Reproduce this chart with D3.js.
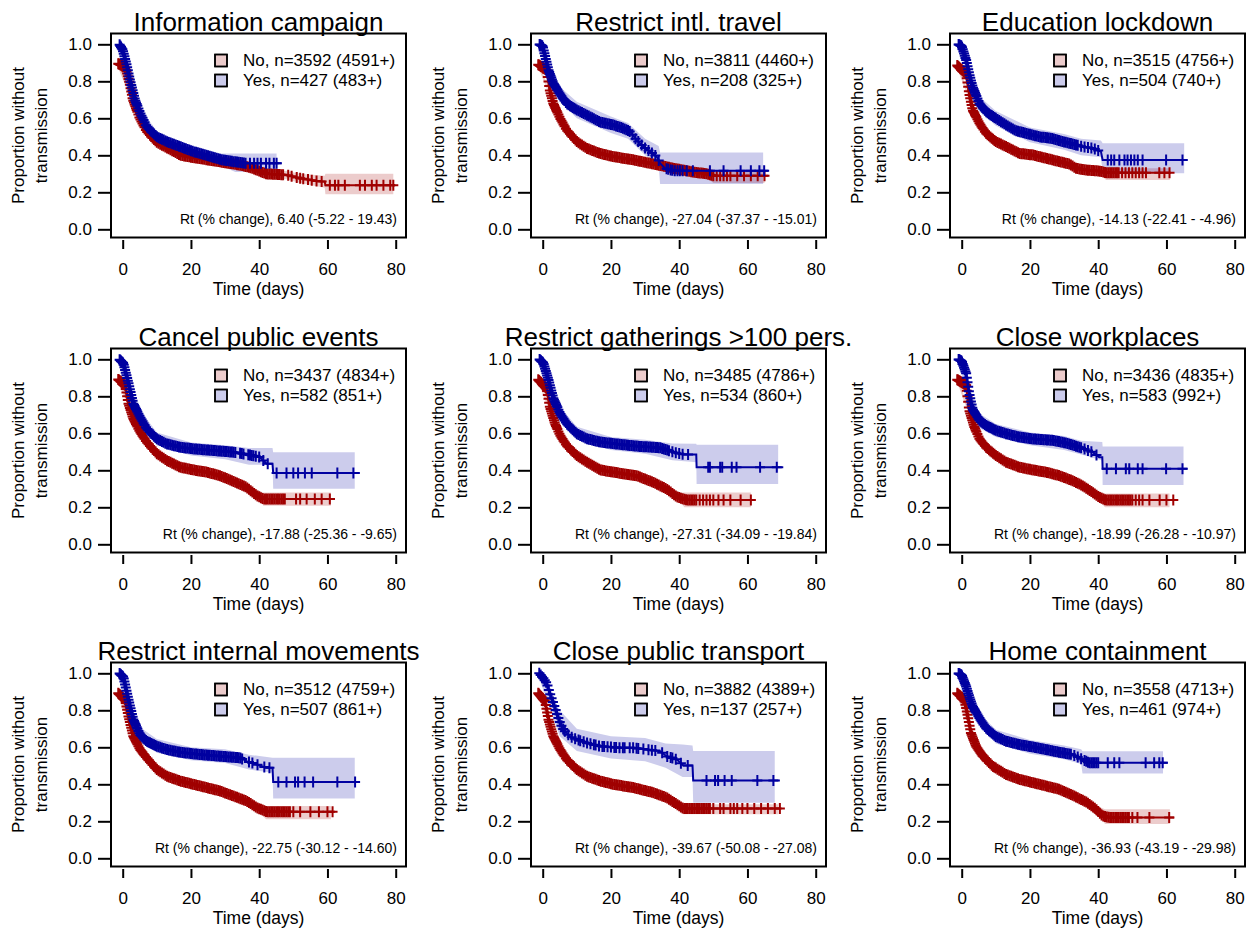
<!DOCTYPE html>
<html>
<head>
<meta charset="utf-8">
<script src="https://cdn.jsdelivr.net/npm/d3@7"></script>
<style>
  body { margin: 0; background: #fff; }
  svg { display: block; }
  text { font-family: "Liberation Sans", Arial, sans-serif; fill: #000; }
</style>
</head>
<body>
<svg id="chart" width="1246" height="928"></svg>
<script>
// panel titles, group sizes, Rt effect labels
var titles = ['Information campaign', 'Restrict intl. travel', 'Education lockdown',
  'Cancel public events', 'Restrict gatherings >100 pers.', 'Close workplaces',
  'Restrict internal movements', 'Close public transport', 'Home containment']
var nNo = [3592, 3811, 3515, 3437, 3485, 3436, 3512, 3882, 3558]
var cNo = [4591, 4460, 4756, 4834, 4786, 4835, 4759, 4389, 4713]
var nYes = [427, 208, 504, 582, 534, 583, 507, 137, 461]
var cYes = [483, 325, 740, 851, 860, 992, 861, 257, 974]
var rtEst = ['6.40', '-27.04', '-14.13', '-17.88', '-27.31', '-18.99', '-22.75', '-39.67', '-36.93']
var rtLo = ['-5.22', '-37.37', '-22.41', '-25.36', '-34.09', '-26.28', '-30.12', '-50.08', '-43.19']
var rtHi = ['19.43', '-15.01', '-4.96', '-9.65', '-19.84', '-10.97', '-14.60', '-27.08', '-29.98']

var xTicks = [0, 20, 40, 60, 80]
var yTicks = [0, 0.2, 0.4, 0.6, 0.8, 1.0]

// censoring times of the steep early part, shared by the dense curves
var earlyCens = [-1.3, -1.1, -0.9, -0.7, -0.5, -0.3, -0.1, 0.1, 0.3, 0.5, 0.7, 0.9, 1.1, 1.3, 1.5, 1.7, 1.9,
  2.1, 2.3, 2.5, 2.7, 2.9, 3.1, 3.3, 3.5, 3.7, 3.9, 4.1, 4.3, 4.6, 4.9, 5.2, 5.5, 5.8, 6.1, 6.4, 6.8, 7.2,
  7.6, 8, 8.4, 8.8, 9.2, 9.6, 10]

// ---- Information campaign
var campNo = [[-1.3, 0.895], [0.5, 0.88], [1.2, 0.85], [2, 0.79], [3, 0.70], [4, 0.65], [5, 0.60], [7, 0.53],
  [10, 0.47], [13, 0.44], [17, 0.40], [20, 0.39], [25, 0.375], [30, 0.36], [35, 0.345], [38, 0.33],
  [42, 0.30], [48, 0.294], [52, 0.276], [58, 0.258], [59.2, 0.258], [59.4, 0.238], [79.8, 0.238]]
var campNoCI = [[-1.3, 0.87, 0.92], [5, 0.585, 0.615], [10, 0.455, 0.485], [20, 0.375, 0.405], [30, 0.345, 0.375],
  [38, 0.31, 0.35], [42, 0.28, 0.32], [48, 0.27, 0.315], [52, 0.25, 0.30], [59.2, 0.225, 0.29],
  [59.4, 0.19, 0.30], [79.3, 0.19, 0.30]]
var campNoCens = [10.5, 11, 11.5, 12, 12.5, 13, 13.5, 14, 14.5, 15, 15.5, 16, 16.5, 17, 17.5, 18, 18.5, 19,
  19.5, 20, 20.5, 21, 21.5, 22, 22.5, 23, 23.5, 24, 24.5, 25, 25.5, 26, 26.5, 27, 27.5, 28, 28.5, 29, 29.5,
  30, 30.5, 31, 31.5, 32, 32.5, 33, 33.5, 34, 34.5, 35, 35.5, 36, 36.5, 37, 37.5, 38, 38.5, 39, 39.5, 40,
  40.5, 41, 41.5, 42, 42.5, 43, 43.5, 44, 44.5, 45, 45.5, 46, 46.5, 47, 48.5, 49.5, 51, 52, 52.9, 54.3,
  55.4, 56.8, 58.3, 60.7, 62.2, 63.2, 65.1, 69.5, 71, 73, 74.4, 76.4, 78.4, 79.3]
var campYes = [[-1, 1.0], [0, 0.97], [1, 0.9], [2.1, 0.81], [3.6, 0.70], [5.1, 0.63], [7, 0.555], [10, 0.50],
  [12.9, 0.474], [16.8, 0.447], [20.7, 0.42], [24.6, 0.40], [28.5, 0.378], [32.4, 0.366], [36, 0.357], [46.6, 0.357]]
var campYesCI = [[-1, 0.98, 1.0], [5, 0.60, 0.66], [10, 0.47, 0.53], [20, 0.39, 0.45], [28, 0.35, 0.41],
  [33, 0.31, 0.41], [45.1, 0.31, 0.41]]
var campYesCens = [10.5, 11, 11.5, 12, 12.5, 13, 13.5, 14, 14.5, 15, 15.5, 16, 16.5, 17, 17.5, 18, 18.5, 19,
  19.5, 20, 20.5, 21, 21.5, 22, 22.5, 23, 23.5, 24, 24.5, 25, 25.5, 26, 26.5, 27, 27.5, 28, 28.5, 29, 29.5,
  30, 30.5, 31, 31.5, 32, 32.5, 33, 33.5, 34, 34.5, 35, 35.5, 36, 37.3, 38.5, 39.5, 40.5, 42, 43, 44.3, 45.1]

// ---- Restrict intl. travel
var travelNo = [[-1.3, 0.89], [1.2, 0.86], [2.1, 0.75], [3.1, 0.68], [5.1, 0.60], [7, 0.537], [10, 0.474],
  [12.9, 0.438], [16.8, 0.41], [20.7, 0.393], [26.6, 0.375], [32.4, 0.353], [38.3, 0.33], [44, 0.31],
  [48, 0.30], [50, 0.29], [66.1, 0.29]]
var travelNoCI = [[-1.3, 0.875, 0.905], [5, 0.585, 0.615], [10, 0.46, 0.49], [20, 0.38, 0.41], [32, 0.335, 0.37],
  [40, 0.31, 0.35], [48, 0.28, 0.32], [50, 0.25, 0.32], [65, 0.25, 0.32]]
var travelNoCens = [10.5, 11, 11.5, 12, 12.5, 13, 13.5, 14, 14.5, 15, 15.5, 16, 16.5, 17, 17.5, 18, 18.5, 19,
  19.5, 20, 20.5, 21, 21.5, 22, 22.5, 23, 23.5, 24, 24.5, 25, 25.5, 26, 26.5, 27, 27.5, 28, 28.5, 29, 29.5,
  30, 30.5, 31, 31.5, 32, 32.5, 33, 33.5, 34, 34.5, 35, 35.5, 36, 36.5, 37, 37.5, 38, 38.5, 39, 39.5, 40,
  40.5, 41, 41.5, 42, 42.5, 43, 43.5, 44, 44.5, 45, 45.5, 46, 46.5, 47, 47.5, 48, 48.5, 49, 49.5, 50, 51,
  52, 53, 54, 55, 57, 59, 61, 63, 65]
var travelYes = [[-1, 1.0], [0, 0.99], [1.7, 0.86], [3.1, 0.79], [5.1, 0.73], [7, 0.68], [10, 0.645],
  [12.9, 0.618], [16.8, 0.58], [20.7, 0.564], [23.6, 0.546], [25.6, 0.528], [27.5, 0.483], [29.5, 0.447],
  [31.4, 0.42], [33.4, 0.393], [34.4, 0.357], [35.8, 0.33], [38.3, 0.317], [66.1, 0.317]]
var travelYesCI = [[-1, 0.97, 1.0], [5, 0.69, 0.77], [10, 0.60, 0.69], [20, 0.52, 0.61], [25, 0.49, 0.575],
  [30, 0.40, 0.49], [34, 0.34, 0.45], [34.4, 0.245, 0.415], [64.6, 0.245, 0.415]]
var travelYesCens = [10.5, 11, 11.5, 12, 12.5, 13, 13.5, 14, 14.5, 15, 15.5, 16, 16.5, 17, 17.5, 18, 18.5,
  19, 19.5, 20, 20.5, 21, 21.5, 22, 22.5, 23, 23.5, 24, 24.5, 25, 25.5, 26.3, 27.2, 28, 29, 30, 31, 32,
  33, 34, 36.3, 36.8, 37.5, 38, 38.7, 39.5, 40.2, 41, 42.2, 44, 49, 53, 58, 61, 63.5, 64.9]

// ---- Education lockdown
var eduNo = [[-1.3, 0.885], [1.3, 0.84], [2.2, 0.735], [3.2, 0.645], [5.2, 0.573], [7.1, 0.519], [10, 0.474],
  [13, 0.447], [16.9, 0.41], [20.8, 0.402], [24.7, 0.384], [28.6, 0.366], [31.5, 0.353], [33.5, 0.33],
  [36.4, 0.32], [40.3, 0.315], [42.3, 0.306], [61.3, 0.306]]
var eduNoCI = [[-1.3, 0.87, 0.9], [5, 0.56, 0.59], [10, 0.46, 0.49], [20, 0.385, 0.42], [30, 0.345, 0.38],
  [36, 0.30, 0.34], [41, 0.29, 0.335], [42.3, 0.267, 0.33], [61, 0.267, 0.33]]
var eduNoCens = [10.5, 11, 11.5, 12, 12.5, 13, 13.5, 14, 14.5, 15, 15.5, 16, 16.5, 17, 17.5, 18, 18.5, 19,
  19.5, 20, 20.5, 21, 21.5, 22, 22.5, 23, 23.5, 24, 24.5, 25, 25.5, 26, 26.5, 27, 27.5, 28, 28.5, 29, 29.5,
  30, 30.5, 31, 31.5, 32, 32.5, 33, 33.5, 34, 34.5, 35, 35.5, 36, 36.5, 37, 37.5, 38, 38.5, 39, 39.5, 40,
  40.5, 41, 41.5, 42, 42.5, 43, 43.5, 44, 44.5, 45, 45.5, 46, 47, 48, 49, 50, 51, 52, 53, 54, 57.9, 59.4, 60.9]
var eduYes = [[-1, 1.0], [0, 0.99], [1.3, 0.915], [2.2, 0.84], [3.2, 0.77], [5.2, 0.68], [7.1, 0.636],
  [10, 0.60], [13, 0.564], [15.9, 0.533], [18.8, 0.519], [22.8, 0.50], [26.7, 0.49], [29.6, 0.474],
  [32.5, 0.461], [35.4, 0.447], [38.4, 0.438], [40.8, 0.42], [41.3, 0.375], [66.2, 0.375]]
var eduYesCI = [[-1, 0.98, 1.0], [5, 0.64, 0.72], [10, 0.56, 0.64], [20, 0.47, 0.55], [30, 0.43, 0.515],
  [35, 0.40, 0.49], [40.8, 0.39, 0.48], [41.3, 0.303, 0.465], [65.2, 0.303, 0.465]]
var eduYesCens = [10.5, 11, 11.5, 12, 12.5, 13, 13.5, 14, 14.5, 15, 15.5, 16, 16.5, 17, 17.5, 18, 18.5, 19,
  19.5, 20, 20.5, 21, 21.5, 22, 22.5, 23, 23.5, 24, 24.5, 25, 25.5, 26, 26.5, 27, 27.5, 28, 28.5, 29, 29.5,
  30, 30.5, 31, 31.5, 32, 32.5, 33, 33.5, 34, 35, 36, 37, 38, 39, 40, 42.8, 43.8, 44.7, 46.2, 47.7, 48.6,
  49.6, 50.6, 51.6, 53, 59.9, 64.7]

// ---- Cancel public events
var eventsNo = [[-1.3, 0.891], [0.7, 0.86], [1.7, 0.76], [3.1, 0.68], [5.1, 0.607], [7, 0.553], [10, 0.49],
  [12.9, 0.453], [16.8, 0.417], [20.7, 0.402], [24.6, 0.39], [28.5, 0.371], [32.4, 0.34], [36.3, 0.308],
  [39.3, 0.263], [41.2, 0.245], [62.2, 0.245]]
var eventsNoCI = [[-1.3, 0.875, 0.905], [5, 0.59, 0.625], [10, 0.475, 0.505], [20, 0.385, 0.42], [30, 0.345, 0.38],
  [36, 0.29, 0.33], [40, 0.245, 0.29], [41.2, 0.208, 0.28], [61, 0.208, 0.28]]
var eventsNoCens = [10.5, 11, 11.5, 12, 12.5, 13, 13.5, 14, 14.5, 15, 15.5, 16, 16.5, 17, 17.5, 18, 18.5, 19,
  19.5, 20, 20.5, 21, 21.5, 22, 22.5, 23, 23.5, 24, 24.5, 25, 25.5, 26, 26.5, 27, 27.5, 28, 28.5, 29, 29.5,
  30, 30.5, 31, 31.5, 32, 32.5, 33, 33.5, 34, 34.5, 35, 35.5, 36, 36.5, 37, 37.5, 38, 38.5, 39, 39.5, 40,
  40.5, 41, 41.5, 42, 42.5, 43, 43.5, 44, 44.5, 45, 45.5, 46, 46.5, 47, 47.5, 50.8, 52, 53.9, 56.3, 58.3, 60.7]
var eventsYes = [[-1, 1.0], [0.2, 0.978], [1.7, 0.87], [3.1, 0.76], [5.1, 0.688], [7, 0.625], [10, 0.57],
  [12.9, 0.543], [16.8, 0.525], [20.7, 0.516], [26.6, 0.507], [32.4, 0.498], [36.3, 0.486], [40.2, 0.471],
  [42.2, 0.435], [43.9, 0.435], [44.1, 0.386], [69.5, 0.386]]
var eventsYesCI = [[-1, 0.98, 1.0], [5, 0.65, 0.73], [10, 0.535, 0.605], [20, 0.48, 0.55], [30, 0.46, 0.535],
  [37, 0.43, 0.52], [43.9, 0.43, 0.52], [44.1, 0.30, 0.498], [68, 0.30, 0.498]]
var eventsYesCens = [10.5, 11, 11.5, 12, 12.5, 13, 13.5, 14, 14.5, 15, 15.5, 16, 16.5, 17, 17.5, 18, 18.5,
  19, 19.5, 20, 20.5, 21, 21.5, 22, 22.5, 23, 23.5, 24, 24.5, 25, 25.5, 26, 26.5, 27, 27.5, 28, 28.5, 29,
  29.5, 30, 30.5, 31, 31.5, 32, 32.5, 33, 34.4, 34.9, 35.4, 36.8, 37.3, 37.8, 38.3, 39, 40, 41.2, 42.5,
  45.1, 48, 50, 51.4, 53.4, 55.4, 62.9, 67.6]

// ---- Restrict gatherings >100 pers.
var gatherNo = [[-1.3, 0.89], [1.2, 0.84], [2.1, 0.743], [3.6, 0.652], [5.1, 0.589], [7, 0.534], [10, 0.48],
  [12.9, 0.444], [16.8, 0.402], [22.7, 0.384], [27.5, 0.371], [32.4, 0.335], [36.3, 0.299], [39.3, 0.257],
  [42.2, 0.239], [62.2, 0.239]]
var gatherNoCI = [[-1.3, 0.875, 0.905], [5, 0.575, 0.605], [10, 0.465, 0.495], [20, 0.375, 0.41], [30, 0.335, 0.37],
  [36, 0.28, 0.32], [40, 0.235, 0.28], [41.5, 0.20, 0.28], [61, 0.20, 0.28]]
var gatherNoCens = [10.5, 11, 11.5, 12, 12.5, 13, 13.5, 14, 14.5, 15, 15.5, 16, 16.5, 17, 17.5, 18, 18.5, 19,
  19.5, 20, 20.5, 21, 21.5, 22, 22.5, 23, 23.5, 24, 24.5, 25, 25.5, 26, 26.5, 27, 27.5, 28, 28.5, 29, 29.5,
  30, 30.5, 31, 31.5, 32, 32.5, 33, 33.5, 34, 34.5, 35, 35.5, 36, 36.5, 37, 37.5, 38, 38.5, 39, 39.5, 40,
  40.5, 41, 41.5, 42, 42.5, 43, 43.5, 44, 44.5, 45, 46, 47, 48, 49, 50, 51.5, 53, 55, 58, 61]
var gatherYes = [[-1, 1.0], [0.2, 0.98], [1.7, 0.888], [3.1, 0.79], [5.1, 0.707], [7, 0.652], [10, 0.598],
  [12.9, 0.571], [16.8, 0.553], [22.7, 0.54], [28.5, 0.529], [34.4, 0.522], [38.3, 0.498], [41.2, 0.486],
  [45, 0.486], [45.1, 0.417], [70.5, 0.417]]
var gatherYesCI = [[-1, 0.98, 1.0], [5, 0.67, 0.745], [10, 0.565, 0.635], [20, 0.51, 0.58], [30, 0.49, 0.565],
  [38, 0.455, 0.545], [45, 0.444, 0.543], [45.1, 0.326, 0.538], [69, 0.326, 0.538]]
var gatherYesCens = [10.5, 11, 11.5, 12, 12.5, 13, 13.5, 14, 14.5, 15, 15.5, 16, 16.5, 17, 17.5, 18, 18.5,
  19, 19.5, 20, 20.5, 21, 21.5, 22, 22.5, 23, 23.5, 24, 24.5, 25, 25.5, 26, 26.5, 27, 27.5, 28, 28.5, 29,
  29.5, 30, 30.5, 31, 31.5, 32, 32.5, 33, 33.5, 34, 34.5, 35, 35.5, 36, 36.5, 37, 38, 39, 40, 41, 42.6,
  48.5, 49, 52, 52.6, 55.4, 56.8, 63.7, 68.6]

// ---- Close workplaces
var workNo = [[-1.3, 0.89], [1.3, 0.86], [2.2, 0.725], [3.7, 0.634], [5.2, 0.57], [7.1, 0.525], [10, 0.48],
  [13, 0.444], [16.9, 0.417], [20.8, 0.402], [24.7, 0.39], [28.6, 0.371], [32.5, 0.344], [35.4, 0.317],
  [38.4, 0.28], [40.3, 0.254], [42.3, 0.239], [62.3, 0.239]]
var workNoCI = [[-1.3, 0.875, 0.905], [5, 0.555, 0.59], [10, 0.465, 0.495], [20, 0.385, 0.42], [30, 0.345, 0.38],
  [36, 0.295, 0.34], [40, 0.24, 0.29], [42, 0.20, 0.275], [60.9, 0.20, 0.275]]
var workNoCens = [10.5, 11, 11.5, 12, 12.5, 13, 13.5, 14, 14.5, 15, 15.5, 16, 16.5, 17, 17.5, 18, 18.5, 19,
  19.5, 20, 20.5, 21, 21.5, 22, 22.5, 23, 23.5, 24, 24.5, 25, 25.5, 26, 26.5, 27, 27.5, 28, 28.5, 29, 29.5,
  30, 30.5, 31, 31.5, 32, 32.5, 33, 33.5, 34, 34.5, 35, 35.5, 36, 36.5, 37, 37.5, 38, 38.5, 39, 39.5, 40,
  40.5, 41, 41.5, 42, 42.5, 43, 43.5, 44, 44.5, 45, 45.5, 46, 46.5, 47, 47.5, 48, 48.5, 49, 49.5, 50, 51,
  52, 53, 55, 58, 60, 62]
var workYes = [[-1, 1.0], [0, 0.99], [1.3, 0.924], [2.2, 0.815], [3.2, 0.73], [5.2, 0.67], [7.1, 0.643],
  [10, 0.616], [13, 0.598], [16.9, 0.58], [20.8, 0.57], [26.7, 0.562], [30.6, 0.547], [34.5, 0.525],
  [38.4, 0.498], [40.3, 0.471], [41.2, 0.471], [41.3, 0.408], [66.2, 0.408]]
var workYesCI = [[-1, 0.98, 1.0], [5, 0.63, 0.71], [10, 0.58, 0.65], [20, 0.535, 0.605], [30, 0.51, 0.585],
  [35, 0.485, 0.56], [41.2, 0.453, 0.553], [41.3, 0.32, 0.529], [65, 0.32, 0.529]]
var workYesCens = [10.5, 11, 11.5, 12, 12.5, 13, 13.5, 14, 14.5, 15, 15.5, 16, 16.5, 17, 17.5, 18, 18.5, 19,
  19.5, 20, 20.5, 21, 21.5, 22, 22.5, 23, 23.5, 24, 24.5, 25, 25.5, 26, 26.5, 27, 27.5, 28, 28.5, 29, 29.5,
  30, 30.5, 31, 31.5, 32, 32.5, 33, 33.5, 34, 34.5, 35, 36, 37, 38, 39.5, 42.5, 45.2, 48.1, 49.1, 51.6, 53,
  59.9, 64.7]

// ---- Restrict internal movements
var moveNo = [[-1.3, 0.892], [0.7, 0.857], [1.7, 0.767], [3.1, 0.66], [5.1, 0.588], [7, 0.543], [10, 0.48],
  [12.9, 0.444], [16.8, 0.418], [20.7, 0.40], [24.6, 0.382], [28.5, 0.364], [32.4, 0.337], [36.3, 0.31],
  [39.3, 0.274], [42.2, 0.251], [62.2, 0.251]]
var moveNoCI = [[-1.3, 0.875, 0.905], [5, 0.572, 0.605], [10, 0.465, 0.495], [20, 0.385, 0.415], [30, 0.34, 0.375],
  [36, 0.29, 0.33], [40, 0.25, 0.295], [42, 0.211, 0.283], [61, 0.211, 0.283]]
var moveNoCens = [10.5, 11, 11.5, 12, 12.5, 13, 13.5, 14, 14.5, 15, 15.5, 16, 16.5, 17, 17.5, 18, 18.5, 19,
  19.5, 20, 20.5, 21, 21.5, 22, 22.5, 23, 23.5, 24, 24.5, 25, 25.5, 26, 26.5, 27, 27.5, 28, 28.5, 29, 29.5,
  30, 30.5, 31, 31.5, 32, 32.5, 33, 33.5, 34, 34.5, 35, 35.5, 36, 36.5, 37, 37.5, 38, 38.5, 39, 39.5, 40,
  40.5, 41, 41.5, 42, 42.5, 43, 43.5, 44, 44.5, 45, 45.5, 46, 46.5, 47, 47.5, 48, 48.5, 49, 50, 52, 55,
  57.5, 60, 61.5]
var moveYes = [[-1, 1.0], [0.2, 0.98], [1.7, 0.857], [3.1, 0.75], [5.1, 0.668], [7, 0.633], [10, 0.606],
  [12.9, 0.588], [16.8, 0.573], [22.7, 0.561], [28.5, 0.552], [34.4, 0.543], [36.3, 0.525], [39.3, 0.507],
  [42.2, 0.489], [43.9, 0.489], [44.1, 0.412], [69.5, 0.412]]
var moveYesCI = [[-1, 0.98, 1.0], [5, 0.63, 0.71], [10, 0.57, 0.645], [20, 0.53, 0.6], [30, 0.515, 0.59],
  [37, 0.48, 0.56], [43.9, 0.462, 0.543], [44.1, 0.323, 0.543], [68, 0.323, 0.543]]
var moveYesCens = [10.5, 11, 11.5, 12, 12.5, 13, 13.5, 14, 14.5, 15, 15.5, 16, 16.5, 17, 17.5, 18, 18.5, 19,
  19.5, 20, 20.5, 21, 21.5, 22, 22.5, 23, 23.5, 24, 24.5, 25, 25.5, 26, 26.5, 27, 27.5, 28, 28.5, 29, 29.5,
  30, 30.5, 31, 31.5, 32, 32.5, 33, 33.5, 34, 34.5, 35, 37, 38, 39.5, 41.5, 43, 45.6, 48, 50.5, 51.4, 53.3,
  55.8, 62.9, 68.1]

// ---- Close public transport
var transNo = [[-1.3, 0.892], [0.7, 0.848], [1.7, 0.749], [3.1, 0.66], [5.1, 0.588], [7, 0.534], [10, 0.48],
  [12.9, 0.444], [16.8, 0.418], [20.7, 0.40], [26.6, 0.382], [32.4, 0.355], [36.3, 0.328], [39.3, 0.292],
  [41.2, 0.269], [70, 0.269]]
var transNoCI = [[-1.3, 0.875, 0.905], [5, 0.572, 0.605], [10, 0.465, 0.495], [20, 0.385, 0.415], [30, 0.345, 0.38],
  [36, 0.31, 0.345], [40, 0.265, 0.305], [41.2, 0.238, 0.292], [69, 0.238, 0.292]]
var transNoCens = [10.5, 11, 11.5, 12, 12.5, 13, 13.5, 14, 14.5, 15, 15.5, 16, 16.5, 17, 17.5, 18, 18.5, 19,
  19.5, 20, 20.5, 21, 21.5, 22, 22.5, 23, 23.5, 24, 24.5, 25, 25.5, 26, 26.5, 27, 27.5, 28, 28.5, 29, 29.5,
  30, 30.5, 31, 31.5, 32, 32.5, 33, 33.5, 34, 34.5, 35, 35.5, 36, 36.5, 37, 37.5, 38, 38.5, 39, 39.5, 40,
  40.5, 41, 41.5, 42, 42.5, 43, 43.5, 44, 44.5, 45, 45.5, 46, 46.5, 47, 47.5, 48, 48.5, 49, 50, 52, 53, 55,
  56, 57, 58.5, 60, 62, 64, 66, 68, 69.5]
var transYes = [[-1, 1.0], [0.2, 0.973], [1.2, 0.946], [2.1, 0.892], [3.1, 0.839], [4.1, 0.785], [5.1, 0.731],
  [6.1, 0.695], [8, 0.659], [10, 0.642], [12.9, 0.624], [16.8, 0.606], [22.7, 0.597], [26.6, 0.597],
  [30.5, 0.588], [34.4, 0.579], [36.3, 0.552], [39.3, 0.534], [41.2, 0.502], [43.9, 0.502], [44.1, 0.421],
  [69.5, 0.421]]
var transYesCI = [[-1, 0.97, 1.0], [5, 0.66, 0.80], [10, 0.58, 0.70], [20, 0.54, 0.66], [30, 0.525, 0.65],
  [36, 0.49, 0.62], [41, 0.44, 0.615], [43.9, 0.44, 0.61], [44.1, 0.30, 0.58], [68, 0.30, 0.58]]
var transYesCens = [-1, -0.6, -0.2, 0.2, 0.6, 1, 1.4, 1.8, 2.2, 2.6, 3, 3.4, 3.8, 4.2, 4.6, 5, 5.5, 6, 6.5,
  7.5, 8.5, 9.5, 10.5, 11, 12, 13, 14, 15, 15.5, 16.5, 17.5, 18, 19, 20, 21, 21.5, 22.5, 23.5, 24, 25.5,
  26.5, 27.5, 28, 29.5, 31, 32, 33, 35, 36.5, 37.5, 38, 39, 40.5, 42.5, 48, 50.5, 51.4, 53.3, 55.4, 62.9, 67.6]

// ---- Home containment
var homeNo = [[-1.3, 0.892], [0.8, 0.857], [1.8, 0.767], [2.7, 0.677], [4.2, 0.606], [6.2, 0.552], [9.1, 0.498],
  [13, 0.453], [16.9, 0.427], [20.8, 0.409], [24.7, 0.391], [28.6, 0.373], [32.5, 0.341], [36.4, 0.305],
  [39.4, 0.265], [41.3, 0.229], [43.3, 0.22], [62.3, 0.22]]
var homeNoCI = [[-1.3, 0.875, 0.905], [5, 0.57, 0.605], [10, 0.47, 0.5], [20, 0.395, 0.43], [30, 0.35, 0.385],
  [36, 0.285, 0.325], [40, 0.235, 0.28], [42, 0.185, 0.265], [61, 0.185, 0.265]]
var homeNoCens = [10.5, 11, 11.5, 12, 12.5, 13, 13.5, 14, 14.5, 15, 15.5, 16, 16.5, 17, 17.5, 18, 18.5, 19,
  19.5, 20, 20.5, 21, 21.5, 22, 22.5, 23, 23.5, 24, 24.5, 25, 25.5, 26, 26.5, 27, 27.5, 28, 28.5, 29, 29.5,
  30, 30.5, 31, 31.5, 32, 32.5, 33, 33.5, 34, 34.5, 35, 35.5, 36, 36.5, 37, 37.5, 38, 38.5, 39, 39.5, 40,
  40.5, 41, 41.5, 42, 42.5, 43, 43.5, 44, 44.5, 45, 45.5, 46, 46.5, 47, 47.5, 48, 48.5, 49, 50, 51.5, 55, 60.8]
var homeYes = [[-1, 1.0], [0, 0.99], [1.3, 0.928], [2.2, 0.875], [3.2, 0.821], [5.2, 0.758], [7.1, 0.704],
  [10, 0.659], [13, 0.633], [16.9, 0.615], [20.8, 0.602], [24.7, 0.588], [28.6, 0.573], [32.5, 0.561],
  [35.4, 0.534], [37.4, 0.516], [60.4, 0.516]]
var homeYesCI = [[-1, 0.98, 1.0], [5, 0.72, 0.79], [10, 0.62, 0.695], [20, 0.565, 0.64], [30, 0.535, 0.61],
  [35, 0.51, 0.59], [35.4, 0.459, 0.579], [59, 0.459, 0.579]]
var homeYesCens = [10.5, 11, 11.5, 12, 12.5, 13, 13.5, 14, 14.5, 15, 15.5, 16, 16.5, 17, 17.5, 18, 18.5, 19,
  19.5, 20, 20.5, 21, 21.5, 22, 22.5, 23, 23.5, 24, 24.5, 25, 25.5, 26, 26.5, 27, 27.5, 28, 28.5, 29, 29.5,
  30, 30.5, 31, 31.5, 32, 33, 34, 35, 36, 36.5, 37, 37.5, 38, 38.5, 39, 39.5, 40, 42.8, 44.7, 46.2, 53.9,
  56.4, 57.9, 58.9]

var panels = [
  [campNo, campNoCI, earlyCens.concat(campNoCens), campYes, campYesCI, earlyCens.concat(campYesCens)],
  [travelNo, travelNoCI, earlyCens.concat(travelNoCens), travelYes, travelYesCI, earlyCens.concat(travelYesCens)],
  [eduNo, eduNoCI, earlyCens.concat(eduNoCens), eduYes, eduYesCI, earlyCens.concat(eduYesCens)],
  [eventsNo, eventsNoCI, earlyCens.concat(eventsNoCens), eventsYes, eventsYesCI, earlyCens.concat(eventsYesCens)],
  [gatherNo, gatherNoCI, earlyCens.concat(gatherNoCens), gatherYes, gatherYesCI, earlyCens.concat(gatherYesCens)],
  [workNo, workNoCI, earlyCens.concat(workNoCens), workYes, workYesCI, earlyCens.concat(workYesCens)],
  [moveNo, moveNoCI, earlyCens.concat(moveNoCens), moveYes, moveYesCI, earlyCens.concat(moveYesCens)],
  [transNo, transNoCI, earlyCens.concat(transNoCens), transYes, transYesCI, transYesCens],
  [homeNo, homeNoCI, earlyCens.concat(homeNoCens), homeYes, homeYesCI, earlyCens.concat(homeYesCens)]
]

var red = '#a00000'
var blue = '#0000a0'
var colX = [0, 420, 839]
var rowY = [0, 315, 629]
var box = { left: 111, right: 406, top: 33.5, bottom: 237.5 }

var x = d3.scaleLinear().domain([0, 80]).range([122.7, 395.7])
var y = d3.scaleLinear().domain([0, 1]).range([229.3, 44.3])

var svg = d3.select('#chart')

function survAt(knots, t) {
  var i = d3.bisector(function (d) { return d[0] }).right(knots, t)
  if (i <= 0) return knots[0][1]
  if (i >= knots.length) return knots[knots.length - 1][1]
  var a = knots[i - 1], b = knots[i]
  return a[1] + (b[1] - a[1]) * (t - a[0]) / (b[0] - a[0])
}

var line = d3.line().x(function (d) { return x(d[0]) }).y(function (d) { return y(d[1]) })
var band = d3.area().x(function (d) { return x(d[0]) })
  .y0(function (d) { return y(d[1]) }).y1(function (d) { return y(d[2]) })

panels.forEach(function (p, i) {
  var g = svg.append('g')
    .attr('transform', 'translate(' + colX[i % 3] + ',' + rowY[Math.floor(i / 3)] + ')')
  var cx = (box.left + box.right) / 2

  // bands
  g.append('path').attr('d', band(p[1])).attr('fill', red).attr('fill-opacity', 0.2)
  g.append('path').attr('d', band(p[4])).attr('fill', blue).attr('fill-opacity', 0.2)

  // curves + censor marks
  ;[[p[0], p[2], red], [p[3], p[5], blue]].forEach(function (c) {
    var knots = c[0]
    var t0 = knots[0][0], t1 = knots[knots.length - 1][0]
    g.append('path').attr('d', line(knots))
      .attr('fill', 'none').attr('stroke', c[2]).attr('stroke-width', 2)
    g.selectAll(null)
      .data(c[1].filter(function (t) { return t >= t0 && t <= t1 }))
      .enter().append('path')
      .attr('transform', function (t) { return 'translate(' + x(t) + ',' + y(survAt(knots, t)) + ')' })
      .attr('d', 'M-5,0H5M0,-5.5V5.5')
      .attr('stroke', c[2]).attr('stroke-width', 2).attr('fill', 'none')
  })

  // box
  g.append('rect')
    .attr('x', box.left).attr('y', box.top)
    .attr('width', box.right - box.left).attr('height', box.bottom - box.top)
    .attr('fill', 'none').attr('stroke', '#000').attr('stroke-width', 2)

  // axes
  var ax = g.append('g').attr('transform', 'translate(0,' + (box.bottom + 2.5) + ')')
    .call(d3.axisBottom(x).tickValues(xTicks).tickSize(9).tickPadding(14))
  var ay = g.append('g').attr('transform', 'translate(' + box.left + ',0)')
    .call(d3.axisLeft(y).tickValues(yTicks).tickFormat(d3.format('.1f')).tickSize(13).tickPadding(6))
  ;[ax, ay].forEach(function (a) {
    a.select('.domain').remove()
    a.selectAll('line').attr('stroke', '#000').attr('stroke-width', 2)
    a.selectAll('text').attr('font-size', 17).attr('font-family', '"Liberation Sans", Arial, sans-serif')
  })

  // titles
  g.append('text').attr('x', cx).attr('y', 31).attr('text-anchor', 'middle')
    .attr('font-size', 26).text(titles[i])
  g.append('text').attr('x', cx).attr('y', 295).attr('text-anchor', 'middle')
    .attr('font-size', 17.5).text('Time (days)')
  var cy = (box.top + box.bottom) / 2
  g.append('text').attr('transform', 'translate(24,' + cy + ') rotate(-90)').attr('text-anchor', 'middle')
    .attr('font-size', 17).text('Proportion without')
  g.append('text').attr('transform', 'translate(46.5,' + cy + ') rotate(-90)').attr('text-anchor', 'middle')
    .attr('font-size', 17).text('transmission')

  // legend
  var leg = [['No, n=' + nNo[i] + ' (' + cNo[i] + '+)', red], ['Yes, n=' + nYes[i] + ' (' + cYes[i] + '+)', blue]]
  leg.forEach(function (l, k) {
    var ly = box.top + 27 + k * 20
    g.append('rect').attr('x', 215).attr('y', ly - 6).attr('width', 12).attr('height', 12)
      .attr('fill', l[1]).attr('fill-opacity', 0.2).attr('stroke', '#000').attr('stroke-width', 1.5)
    g.append('rect').attr('x', 215).attr('y', ly - 6).attr('width', 12).attr('height', 12)
      .attr('fill', 'none').attr('stroke', '#000').attr('stroke-width', 1.5)
    g.append('text').attr('x', 243).attr('y', ly).attr('dy', '0.35em')
      .attr('font-size', 17).text(l[0])
  })

  // Rt annotation
  g.append('text').attr('x', 397).attr('y', box.bottom - 14).attr('text-anchor', 'end')
    .attr('font-size', 14)
    .text('Rt (% change), ' + rtEst[i] + ' (' + rtLo[i] + ' - ' + rtHi[i] + ')')
})
</script>
</body>
</html>
